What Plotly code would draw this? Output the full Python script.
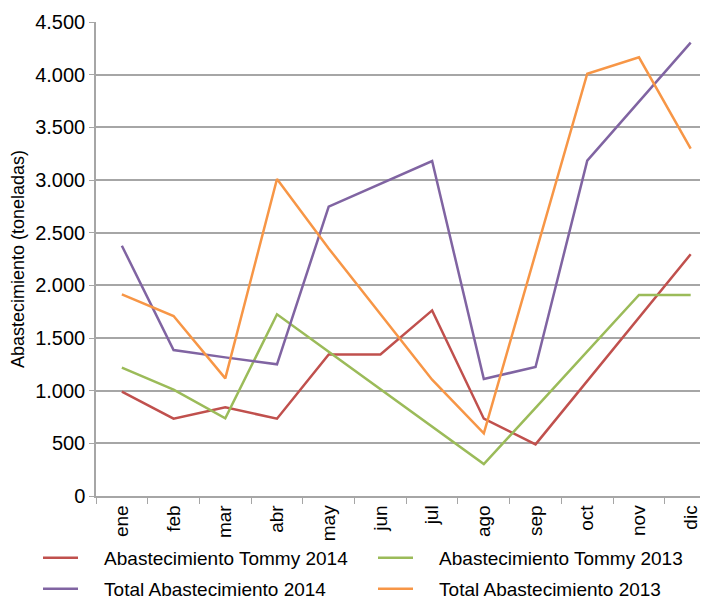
import plotly.graph_objects as go

months = ["ene", "feb", "mar", "abr", "may", "jun", "jul", "ago", "sep", "oct", "nov", "dic"]
tommy_2014 = [990, 734, 842, 734, 1343, 1343, 1762, 734, 490, 1090, 1690, 2295]
tommy_2013 = [1218, 1009, 737, 1725, 1370, 1015, 660, 304, 836, 1372, 1908, 1908]
total_2014 = [2376, 1386, 1316, 1250, 2747, 2965, 3180, 1111, 1225, 3183, 3743, 4304]
total_2013 = [1915, 1709, 1117, 3010, 2350, 1727, 1104, 595, 2310, 4009, 4165, 3297]

series_names = ["Abastecimiento Tommy 2014", "Abastecimiento Tommy 2013",
                "Total Abastecimiento 2014", "Total Abastecimiento 2013"]
series_values = [tommy_2014, tommy_2013, total_2014, total_2013]
series_colors = ["#C0504D", "#9BBB59", "#8064A2", "#F79646"]

# page body has an 8px margin; figure coordinates are offset by it
OFF = 8
W, H = 700, 593
L, T = 88, 14
pw = W - L
ph = 474
B = H - T - ph
R = 0

def px_to_paper_x(px):
    return (px - OFF - L) / pw

def px_to_paper_y(py):
    return (T + ph - (py - OFF)) / ph

# legend slot positions (page px): line start x, row center y
legend_slots = [(45, 558), (380, 558), (45, 589), (380, 589)]
legend_ids = ["legend", "legend2", "legend3", "legend4"]

fig = go.Figure()
for name, vals, color, lg in zip(series_names, series_values, series_colors, legend_ids):
    fig.add_trace(go.Scatter(x=months, y=vals, mode="lines",
                             name="\u00a0\u00a0\u00a0\u00a0" + name,
                             line=dict(color=color, width=2.5), legend=lg))

grid = "#A6A6A6"
legends = {}
for lg, (lx, ly) in zip(legend_ids, legend_slots):
    legends[lg] = dict(orientation="h", xanchor="left", yanchor="middle",
                       x=px_to_paper_x(lx - 7), y=px_to_paper_y(ly),
                       font=dict(size=19, color="#000000"),
                       bgcolor="rgba(0,0,0,0)", itemwidth=35)

fig.update_layout(
    width=W, height=H,
    margin=dict(l=L, r=R, t=T, b=B, autoexpand=False),
    paper_bgcolor="white", plot_bgcolor="white",
    font=dict(family="Liberation Sans, Arial, sans-serif", size=18, color="#000000"),
    separators=",.",
    showlegend=True,
    xaxis=dict(type="category", range=[-0.5, 11.335], tickson="boundaries",
               ticks="outside", ticklen=6, tickcolor=grid, tickwidth=1,
               showline=True, linecolor=grid, linewidth=1.5, showgrid=False,
               tickangle=-90, tickfont=dict(size=19), fixedrange=True),
    yaxis=dict(range=[0, 4500], dtick=500, tick0=0, tickformat=",",
               showgrid=True, gridcolor=grid, gridwidth=1.5,
               showline=True, linecolor=grid, linewidth=1.5, zeroline=False,
               ticks="outside", ticklen=5, tickcolor=grid,
               tickfont=dict(size=20),
               title=dict(text="Abastecimiento (toneladas)", font=dict(size=18), standoff=6),
               fixedrange=True),
    **legends,
)

fig.write_html("out.html")
